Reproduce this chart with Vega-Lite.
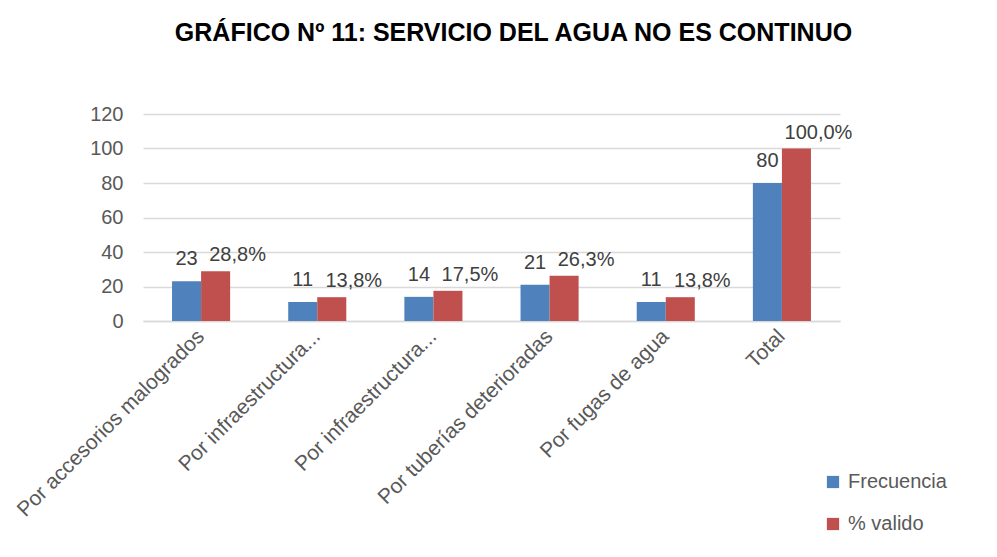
{
  "$schema": "https://vega.github.io/schema/vega-lite/v6.json",
  "width": 697,
  "height": 207,
  "autosize": {"type": "none"},
  "padding": {"left": 143, "top": 114, "right": 157, "bottom": 236},
  "background": "white",
  "title": {
    "text": "GRÁFICO Nº 11:  SERVICIO DEL AGUA NO ES CONTINUO",
    "font": "Liberation Sans",
    "fontSize": 25,
    "fontWeight": "bold",
    "color": "#000000",
    "anchor": "middle",
    "dx": 22,
    "offset": 58
  },
  "data": {
    "values": [
      {"cat": "Por accesorios malogrados", "serie": "Frecuencia", "valor": 23, "etiqueta": "23"},
      {"cat": "Por accesorios malogrados", "serie": "% valido", "valor": 28.8, "etiqueta": "28,8%"},
      {"cat": "Por infraestructura...", "serie": "Frecuencia", "valor": 11, "etiqueta": "11"},
      {"cat": "Por infraestructura...", "serie": "% valido", "valor": 13.8, "etiqueta": "13,8%"},
      {"cat": "Por infraestructura... ", "serie": "Frecuencia", "valor": 14, "etiqueta": "14"},
      {"cat": "Por infraestructura... ", "serie": "% valido", "valor": 17.5, "etiqueta": "17,5%"},
      {"cat": "Por tuberías deterioradas", "serie": "Frecuencia", "valor": 21, "etiqueta": "21"},
      {"cat": "Por tuberías deterioradas", "serie": "% valido", "valor": 26.3, "etiqueta": "26,3%"},
      {"cat": "Por fugas de agua", "serie": "Frecuencia", "valor": 11, "etiqueta": "11"},
      {"cat": "Por fugas de agua", "serie": "% valido", "valor": 13.8, "etiqueta": "13,8%"},
      {"cat": "Total", "serie": "Frecuencia", "valor": 80, "etiqueta": "80"},
      {"cat": "Total", "serie": "% valido", "valor": 100.0, "etiqueta": "100,0%"}
    ]
  },
  "encoding": {
    "x": {
      "field": "cat",
      "type": "nominal",
      "sort": ["Por accesorios malogrados", "Por infraestructura...", "Por infraestructura... ", "Por tuberías deterioradas", "Por fugas de agua", "Total"],
      "scale": {"paddingInner": 0.5, "paddingOuter": 0.25},
      "axis": {
        "title": null,
        "labelAngle": -45,
        "labelAlign": "right",
        "labelBaseline": "middle",
        "labelFont": "Liberation Sans",
        "labelFontSize": 21,
        "labelColor": "#595959",
        "labelPadding": 12,
        "labelLimit": 400,
        "ticks": false,
        "domainColor": "#d9d9d9",
        "domainWidth": 1.5,
        "grid": false
      }
    },
    "xOffset": {
      "field": "serie",
      "type": "nominal",
      "sort": ["Frecuencia", "% valido"]
    },
    "y": {
      "field": "valor",
      "type": "quantitative",
      "scale": {"domain": [0, 120]},
      "axis": {
        "title": null,
        "values": [0, 20, 40, 60, 80, 100, 120],
        "labelFont": "Liberation Sans",
        "labelFontSize": 20,
        "labelColor": "#595959",
        "labelPadding": 20,
        "ticks": false,
        "domain": false,
        "gridColor": "#d9d9d9",
        "gridWidth": 1.5
      }
    }
  },
  "layer": [
    {
      "mark": {"type": "bar"},
      "encoding": {
        "color": {
          "field": "serie",
          "type": "nominal",
          "sort": ["Frecuencia", "% valido"],
          "scale": {"domain": ["Frecuencia", "% valido"], "range": ["#4f81bd", "#c0504d"]},
          "legend": {
            "title": null,
            "orient": "none",
            "legendX": 680,
            "legendY": 358,
            "symbolType": "square",
            "symbolSize": 150,
            "symbolStrokeWidth": 0,
            "labelFont": "Liberation Sans",
            "labelFontSize": 20,
            "labelColor": "#595959",
            "rowPadding": 22,
            "labelOffset": 5
          }
        }
      }
    },
    {
      "transform": [{"filter": "datum.serie == 'Frecuencia'"}],
      "mark": {"type": "text", "baseline": "bottom", "align": "center", "dy": -12, "font": "Liberation Sans", "fontSize": 20, "color": "#404040"},
      "encoding": {"text": {"field": "etiqueta"}}
    },
    {
      "transform": [{"filter": "datum.serie == '% valido'"}],
      "mark": {"type": "text", "baseline": "bottom", "align": "center", "dx": 22, "dy": -6, "font": "Liberation Sans", "fontSize": 20, "color": "#404040"},
      "encoding": {"text": {"field": "etiqueta"}}
    }
  ],
  "config": {
    "view": {"stroke": null}
  }
}
